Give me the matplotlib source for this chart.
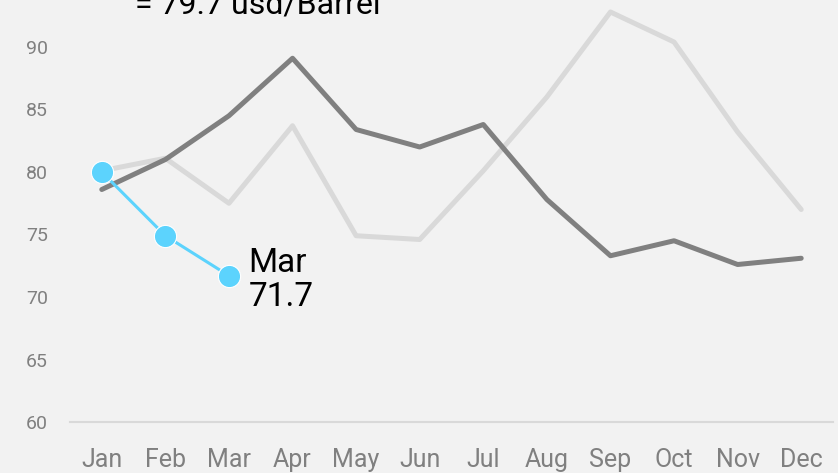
# Oil price by month chart

import matplotlib
matplotlib.use('Agg')
import matplotlib.pyplot as plt

# ------ Data ------
months = ['Jan', 'Feb', 'Mar', 'Apr', 'May', 'Jun', 'Jul', 'Aug', 'Sep', 'Oct', 'Nov', 'Dec']
price_prev2 = [80.1, 81.1, 77.5, 83.7, 74.9, 74.6, 80.1, 86.0, 92.8, 90.4, 83.2, 77.0]
price_prev1 = [78.6, 81.0, 84.5, 89.1, 83.4, 82.0, 83.8, 77.8, 73.3, 74.5, 72.6, 73.1]
price_now = [80.0, 74.9, 71.7]
yticks = [60, 65, 70, 75, 80, 85, 90]
headline = '= 79.7 usd/Barrel'

bg = '#f2f2f2'
plt.rcParams['font.family'] = ['Roboto', 'DejaVu Sans']

fig = plt.figure(figsize=(8.38, 4.73), dpi=100, facecolor=bg)
ax = fig.add_axes([70/838, 51/473, 763/838, 422/473])
ax.set_facecolor(bg)

x = list(range(len(months)))

ax.plot(x, price_prev2, color='#d9d9d9', lw=3.6, solid_capstyle='round', zorder=2)
ax.plot(x, price_prev1, color='#808080', lw=3.6, solid_capstyle='round', zorder=3)
ax.plot(x[:len(price_now)], price_now, color='#5cd3fd', lw=2.2, marker='o', ms=16,
        markeredgecolor='white', markeredgewidth=0.8, zorder=4)

# label for latest point
last = len(price_now) - 1
ax.annotate(f'{months[last]}\n{price_now[last]}', xy=(last, price_now[last]),
            xytext=(14, -3), textcoords='offset points', ha='left', va='center',
            fontsize=24, color='black', linespacing=1.1, zorder=5)

ax.set_xlim(-0.5, 11.5)
ax.set_ylim(60, 60 + 422/12.5)
ax.set_xticks(x)
ax.set_xticklabels(months)
ax.set_yticks(yticks)

for s in ['top', 'right', 'left']:
    ax.spines[s].set_visible(False)
ax.spines['bottom'].set_color('#d9d9d9')
ax.spines['bottom'].set_linewidth(1.5)

ax.tick_params(axis='x', length=0, pad=19, labelsize=18, labelcolor='#808080')
ax.tick_params(axis='y', length=0, pad=16, labelsize=14, labelcolor='#808080')

fig.text(135/838, 1 - 13/473, headline, ha='left', va='baseline', fontsize=23, color='black')

plt.savefig('out.png', dpi=100, facecolor=bg)
